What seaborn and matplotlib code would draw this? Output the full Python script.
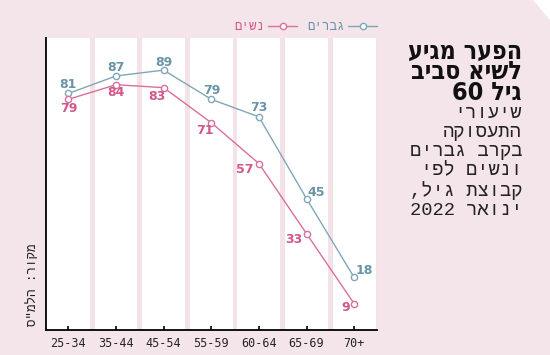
import re
import numpy as np
import pandas as pd
import matplotlib
matplotlib.use("Agg")
import matplotlib.pyplot as plt
from matplotlib.lines import Line2D
from matplotlib.patches import Polygon
import seaborn as sns

# ---------------- data ----------------
age_groups = ['25-34', '35-44', '45-54', '55-59', '60-64', '65-69', '70+']
men = [81, 87, 89, 79, 73, 45, 18]
women = [79, 84, 83, 71, 57, 33, 9]
men_label = 'גברים'
women_label = 'נשים'
title_lines = ['הפער מגיע', 'לשיא סביב', 'גיל 60']
subtitle_lines = ['שיעורי', 'התעסוקה', 'בקרב גברים', 'ונשים לפי', 'קבוצת גיל,', 'ינואר 2022']
source_text = 'מקור: הלמ"ס'

# ---------------- style ----------------
BG = '#f3e5e9'
STRIPE = '#f3e2e7'
BLUE_LINE = '#80a7b7'
BLUE_TEXT = '#6995a8'
PINK_LINE = '#da6f9b'
PINK_TEXT = '#d2588b'

# label offsets in pixels (dx, dy, ha)
men_offsets = [(0, 9, 'center'), (0, 8, 'center'), (0, 8, 'center'), (1, 9, 'center'),
               (0, 9, 'center'), (1, 6, 'left'), (1, 7, 'left')]
women_offsets = [(0, -9, 'center'), (0, -8, 'center'), (-7, -9, 'center'), (-6, -8, 'center'),
                 (-5, -6, 'right'), (-4, -6, 'right'), (-4, -4, 'right')]


def rtl(s):
    """Reverse a logical-order Hebrew string into visual order, keeping digit runs."""
    tokens = re.findall(r'\d+|\D+', s)
    out = []
    for t in reversed(tokens):
        out.append(t if t.isdigit() else t[::-1])
    return ''.join(out)


sns.set_theme(style='white')
plt.rcParams['font.family'] = ['DejaVu Sans', 'Liberation Sans']

df = pd.DataFrame({
    'age': age_groups * 2,
    'rate': men + women,
    'sex': [men_label] * len(men) + [women_label] * len(women),
})

fig = plt.figure(figsize=(5.5, 3.55), dpi=100, facecolor=BG)
ax = fig.add_axes([46 / 550, 1 - 330 / 355, (377 - 46) / 550, (330 - 38) / 355])
ax.set_facecolor('white')

# vertical stripes between categories
for i in range(len(age_groups)):
    ax.axvspan(i + 0.5 - 0.05, i + 0.5 + 0.05, color=STRIPE, lw=0, zorder=0)

sns.lineplot(data=df, x='age', y='rate', hue='sex', palette={men_label: BLUE_LINE, women_label: PINK_LINE},
             marker='o', markersize=4.5, markerfacecolor='white', markeredgewidth=1.0,
             linewidth=1.0, legend=False, sort=False, ax=ax, zorder=3)
for ln in ax.get_lines():
    ln.set_markeredgecolor(ln.get_color())
    ln.set_markerfacecolor('white')

for i, v in enumerate(men):
    dx, dy, ha = men_offsets[i]
    ax.annotate(str(v), (i, v), xytext=(dx, dy), textcoords='offset pixels', ha=ha, va='center',
                color=BLUE_TEXT, fontsize=9, fontweight='bold', zorder=4)
for i, v in enumerate(women):
    dx, dy, ha = women_offsets[i]
    ax.annotate(str(v), (i, v), xytext=(dx, dy), textcoords='offset pixels', ha=ha, va='center',
                color=PINK_TEXT, fontsize=9, fontweight='bold', zorder=4)

ax.set_xlim(-0.47, 6.48)
ax.set_ylim(0, 100)
ax.set_yticks([])
ax.set_xticks(range(len(age_groups)))
ax.set_xticklabels(age_groups, fontsize=8.5, family='DejaVu Sans Mono')
ax.tick_params(axis='x', direction='in', length=3, width=1.2, color='black', pad=5, bottom=True)
ax.set_xlabel('')
ax.set_ylabel('')
for s in ['top', 'right']:
    ax.spines[s].set_visible(False)
for s in ['left', 'bottom']:
    ax.spines[s].set_color('black')
    ax.spines[s].set_linewidth(1.3)

# legend (RTL: text left of handle, marker at right end)
h_w = Line2D([], [], color=PINK_LINE, marker='o', markersize=4.5, markerfacecolor='white',
             markeredgecolor=PINK_LINE, lw=1, markevery=[2])
h_m = Line2D([], [], color=BLUE_LINE, marker='o', markersize=4.5, markerfacecolor='white',
             markeredgecolor=BLUE_LINE, lw=1, markevery=[2])
leg = fig.legend([h_w, h_m], [rtl(women_label), rtl(men_label)], loc='center right',
                 bbox_to_anchor=(377 / 550, 1 - 27 / 355), ncol=2, frameon=False,
                 markerfirst=False, numpoints=1, handlelength=2.3, handletextpad=0.3,
                 columnspacing=0.8, prop={'family': 'Liberation Mono', 'size': 9},
                 borderaxespad=0, borderpad=0)
for t, c in zip(leg.get_texts(), [PINK_TEXT, BLUE_TEXT]):
    t.set_color(c)

# title (one block, tight line spacing) and subtitle
fig.text(522 / 550, 1 - 72 / 355, '\n'.join(rtl(l) for l in title_lines), ha='right', va='center',
         multialignment='right', linespacing=0.82, fontsize=18, fontweight='bold',
         fontstretch='condensed', color='#111111')
fig.text(522 / 550, 1 - 162 / 355, '\n'.join(rtl(l) for l in subtitle_lines), ha='right', va='center',
         multialignment='right', linespacing=1.15, fontsize=13.5,
         family='Liberation Mono', color='#222222')

# source
fig.text(33 / 550, 1 - 326 / 355, rtl(source_text), rotation=90, ha='center', va='bottom',
         fontsize=9, family='Liberation Mono', color='#222222')

# cut corner
fig.patches.append(Polygon([(533 / 550, 1), (1, 1), (1, 1 - 20 / 355)], closed=True,
                           transform=fig.transFigure, facecolor='white', edgecolor='none'))

fig.savefig('out.png', dpi=100, facecolor=BG)
